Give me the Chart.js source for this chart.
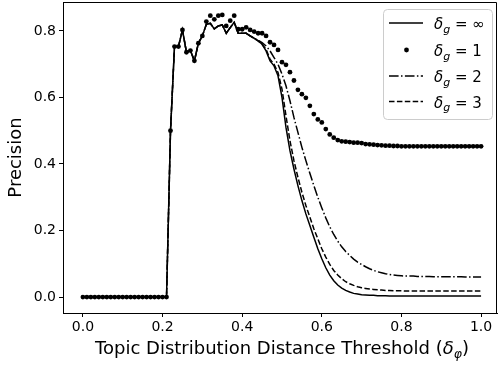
<!DOCTYPE html>
<html>
<head>
<meta charset="utf-8">
<script src="https://cdn.jsdelivr.net/npm/chart.js@4"></script>
<style>
  html, body { margin: 0; padding: 0; background: #fff; }
</style>
</head>
<body>
<canvas id="precisionChart" width="498" height="367"></canvas>
<script>
// distance thresholds (x)
const thresholds = [
    0.00, 0.01, 0.02, 0.03, 0.04, 0.05, 0.06, 0.07, 0.08, 0.09,
    0.10, 0.11, 0.12, 0.13, 0.14, 0.15, 0.16, 0.17, 0.18, 0.19,
    0.20, 0.21, 0.22, 0.23, 0.24, 0.25, 0.26, 0.27, 0.28, 0.29,
    0.30, 0.31, 0.32, 0.33, 0.34, 0.35, 0.36, 0.37, 0.38, 0.39,
    0.40, 0.41, 0.42, 0.43, 0.44, 0.45, 0.46, 0.47, 0.48, 0.49,
    0.50, 0.51, 0.52, 0.53, 0.54, 0.55, 0.56, 0.57, 0.58, 0.59,
    0.60, 0.61, 0.62, 0.63, 0.64, 0.65, 0.66, 0.67, 0.68, 0.69,
    0.70, 0.71, 0.72, 0.73, 0.74, 0.75, 0.76, 0.77, 0.78, 0.79,
    0.80, 0.81, 0.82, 0.83, 0.84, 0.85, 0.86, 0.87, 0.88, 0.89,
    0.90, 0.91, 0.92, 0.93, 0.94, 0.95, 0.96, 0.97, 0.98, 0.99,
    1.00
];

// delta_g = infinity
const precisionInf = [
    0, 0, 0, 0, 0, 0, 0, 0, 0, 0,
    0, 0, 0, 0, 0, 0, 0, 0, 0, 0,
    0, 0, 0.50, 0.753, 0.753, 0.803, 0.736, 0.741, 0.71, 0.763,
    0.785, 0.82, 0.823, 0.806, 0.815, 0.818, 0.793, 0.81, 0.826, 0.793,
    0.793, 0.793, 0.785, 0.778, 0.77, 0.76, 0.74, 0.71, 0.695, 0.665,
    0.60, 0.51, 0.44, 0.385, 0.335, 0.29, 0.25, 0.215, 0.18, 0.145,
    0.115, 0.088, 0.066, 0.049, 0.036, 0.027, 0.02, 0.015, 0.011, 0.009,
    0.007, 0.006, 0.005, 0.005, 0.004, 0.004, 0.004, 0.003, 0.003, 0.003,
    0.003, 0.003, 0.003, 0.003, 0.003, 0.003, 0.003, 0.003, 0.003, 0.003,
    0.003, 0.003, 0.003, 0.003, 0.003, 0.003, 0.003, 0.003, 0.003, 0.003,
    0.003
];

// delta_g = 1
const precisionG1 = [
    0, 0, 0, 0, 0, 0, 0, 0, 0, 0,
    0, 0, 0, 0, 0, 0, 0, 0, 0, 0,
    0, 0, 0.50, 0.753, 0.753, 0.803, 0.736, 0.741, 0.71, 0.763,
    0.785, 0.828, 0.846, 0.835, 0.846, 0.848, 0.815, 0.831, 0.846, 0.805,
    0.805, 0.811, 0.803, 0.798, 0.793, 0.793, 0.785, 0.766, 0.758, 0.743,
    0.706, 0.698, 0.676, 0.651, 0.623, 0.610, 0.599, 0.575, 0.55, 0.534,
    0.525, 0.505, 0.489, 0.479, 0.472, 0.468, 0.467, 0.466, 0.464, 0.464,
    0.463, 0.46, 0.459, 0.458, 0.457, 0.456, 0.455, 0.455, 0.454, 0.454,
    0.453, 0.453, 0.453, 0.453, 0.453, 0.453, 0.453, 0.453, 0.453, 0.453,
    0.453, 0.453, 0.453, 0.453, 0.453, 0.453, 0.453, 0.453, 0.453, 0.453,
    0.453
];

// delta_g = 2
const precisionG2 = [
    0, 0, 0, 0, 0, 0, 0, 0, 0, 0,
    0, 0, 0, 0, 0, 0, 0, 0, 0, 0,
    0, 0, 0.50, 0.753, 0.753, 0.803, 0.736, 0.741, 0.71, 0.763,
    0.785, 0.82, 0.823, 0.806, 0.815, 0.818, 0.793, 0.81, 0.826, 0.793,
    0.793, 0.793, 0.785, 0.778, 0.772, 0.765, 0.755, 0.74, 0.72, 0.70,
    0.67, 0.635, 0.59, 0.54, 0.495, 0.45, 0.41, 0.372, 0.335, 0.30,
    0.268, 0.238, 0.211, 0.188, 0.168, 0.151, 0.137, 0.125, 0.114, 0.105,
    0.098, 0.091, 0.085, 0.08, 0.076, 0.073, 0.07, 0.068, 0.066, 0.065,
    0.064, 0.063, 0.063, 0.063, 0.062, 0.062, 0.062, 0.062, 0.061, 0.061,
    0.061, 0.061, 0.061, 0.061, 0.061, 0.061, 0.06, 0.06, 0.06, 0.06,
    0.06
];

// delta_g = 3
const precisionG3 = [
    0, 0, 0, 0, 0, 0, 0, 0, 0, 0,
    0, 0, 0, 0, 0, 0, 0, 0, 0, 0,
    0, 0, 0.50, 0.753, 0.753, 0.803, 0.736, 0.741, 0.71, 0.763,
    0.785, 0.82, 0.823, 0.806, 0.815, 0.818, 0.793, 0.81, 0.826, 0.793,
    0.793, 0.793, 0.785, 0.778, 0.77, 0.76, 0.745, 0.715, 0.70, 0.675,
    0.625, 0.545, 0.47, 0.41, 0.36, 0.315, 0.275, 0.24, 0.205, 0.175,
    0.145, 0.12, 0.098, 0.08, 0.066, 0.055, 0.046, 0.04, 0.035, 0.031,
    0.028, 0.026, 0.024, 0.023, 0.022, 0.021, 0.02, 0.02, 0.019, 0.019,
    0.019, 0.018, 0.018, 0.018, 0.018, 0.018, 0.018, 0.018, 0.018, 0.018,
    0.018, 0.018, 0.018, 0.018, 0.018, 0.018, 0.018, 0.018, 0.018, 0.018,
    0.018
];

const seriesLabels = ['\u221e', '1', '2', '3'];
const xTicks = [0, 0.2, 0.4, 0.6, 0.8, 1.0];
const yTicks = [0, 0.2, 0.4, 0.6, 0.8];

const FONT = "'DejaVu Sans', sans-serif";

function points(values) {
    return thresholds.map(function (x, i) { return { x: x, y: values[i] }; });
}

// draws text pieces one after another (for delta with subscript)
function drawPieces(ctx, x, y, pieces) {
    pieces.forEach(function (p) {
        ctx.font = (p.italic ? 'italic ' : '') + p.size + 'px ' + FONT;
        ctx.fillText(p.t, x, y + (p.dy || 0));
        x += ctx.measureText(p.t).width;
    });
    return x;
}

const framePlugin = {
    id: 'frame',
    afterDatasetsDraw(chart) {
        const a = chart.chartArea;
        const ctx = chart.ctx;
        ctx.save();
        ctx.strokeStyle = '#000';
        ctx.lineWidth = 1;
        ctx.beginPath();
        ctx.moveTo(Math.round(a.left) + 0.5, Math.round(a.top) + 0.5);
        ctx.lineTo(Math.round(a.right) - 0.5, Math.round(a.top) + 0.5);
        ctx.lineTo(Math.round(a.right) - 0.5, Math.round(a.bottom) + 0.5);
        ctx.stroke();
        ctx.restore();
    }
};

const legendPlugin = {
    id: 'mathLegend',
    afterDraw(chart) {
        const ctx = chart.ctx;
        const ds = chart.data.datasets;
        ctx.save();
        // box
        const bx = 383.5, by = 9.5, bw = 109, bh = 110, r = 4;
        ctx.beginPath();
        ctx.moveTo(bx + r, by);
        ctx.arcTo(bx + bw, by, bx + bw, by + bh, r);
        ctx.arcTo(bx + bw, by + bh, bx, by + bh, r);
        ctx.arcTo(bx, by + bh, bx, by, r);
        ctx.arcTo(bx, by, bx + bw, by, r);
        ctx.closePath();
        ctx.fillStyle = 'rgba(255,255,255,0.8)';
        ctx.fill();
        ctx.strokeStyle = '#cccccc';
        ctx.lineWidth = 1;
        ctx.stroke();

        const rows = [23, 50, 76, 101.5];
        ds.forEach(function (d, i) {
            const cy = rows[i];
            ctx.strokeStyle = '#000';
            ctx.fillStyle = '#000';
            if (d.showLine) {
                ctx.lineWidth = d.borderWidth;
                ctx.setLineDash(d.borderDash || []);
                ctx.beginPath();
                ctx.moveTo(389, cy);
                ctx.lineTo(423, cy);
                ctx.stroke();
                ctx.setLineDash([]);
            } else {
                ctx.beginPath();
                ctx.arc(406.5, cy, d.pointRadius, 0, Math.PI * 2);
                ctx.fill();
            }
            ctx.textBaseline = 'alphabetic';
            ctx.textAlign = 'left';
            drawPieces(ctx, 434, cy + 6, [
                { t: '\u03b4', italic: true, size: 15 },
                { t: 'g', italic: true, size: 11, dy: 3.5 },
                { t: ' = ' + seriesLabels[i], size: 15 }
            ]);
        });
        ctx.restore();
    }
};

const xTitlePlugin = {
    id: 'xTitle',
    afterDraw(chart) {
        const ctx = chart.ctx;
        const a = chart.chartArea;
        ctx.save();
        ctx.fillStyle = '#000';
        ctx.textBaseline = 'alphabetic';
        ctx.textAlign = 'left';
        const pieces = [
            { t: 'Topic Distribution Distance Threshold (', size: 18 },
            { t: '\u03b4', italic: true, size: 18 },
            { t: '\u03c6', italic: true, size: 12.5, dy: 4 },
            { t: ')', size: 18 }
        ];
        let w = 0;
        pieces.forEach(function (p) {
            ctx.font = (p.italic ? 'italic ' : '') + p.size + 'px ' + FONT;
            w += ctx.measureText(p.t).width;
        });
        drawPieces(ctx, (a.left + a.right) / 2 - w / 2 + 2, 354, pieces);
        ctx.restore();
    }
};

new Chart(document.getElementById('precisionChart'), {
    type: 'scatter',
    data: {
        datasets: [{
            label: 'dg=inf',
            data: points(precisionInf),
            showLine: true,
            borderColor: '#000',
            borderWidth: 1.5,
            pointRadius: 0,
            tension: 0
        }, {
            label: 'dg=1',
            data: points(precisionG1),
            showLine: false,
            backgroundColor: '#000',
            borderColor: '#000',
            pointRadius: 2.4,
            pointBorderWidth: 0
        }, {
            label: 'dg=2',
            data: points(precisionG2),
            showLine: true,
            borderColor: '#000',
            borderWidth: 1.5,
            borderDash: [9.6, 2.4, 1.5, 2.4],
            pointRadius: 0,
            tension: 0
        }, {
            label: 'dg=3',
            data: points(precisionG3),
            showLine: true,
            borderColor: '#000',
            borderWidth: 1.5,
            borderDash: [5.5, 2.4],
            pointRadius: 0,
            tension: 0
        }]
    },
    options: {
        responsive: false,
        animation: false,
        layout: { autoPadding: false, padding: { top: 2, right: 1, left: 0, bottom: 0 } },
        plugins: {
            legend: { display: false },
            tooltip: { enabled: false }
        },
        scales: {
            x: {
                type: 'linear',
                min: -0.05,
                max: 1.04,
                afterBuildTicks: function (s) { s.ticks = xTicks.map(function (v) { return { value: v }; }); },
                afterFit: function (s) {
                    s.height = 54;
                    s.paddingLeft = 0;
                    s.paddingRight = 0;
                },
                ticks: {
                    callback: function (v) { return v.toFixed(1); },
                    font: { family: FONT, size: 14 },
                    color: '#000',
                    padding: 2,
                    maxRotation: 0,
                    autoSkip: false
                },
                grid: { drawOnChartArea: false, drawTicks: true, tickLength: 4, color: '#000' },
                border: { display: true, color: '#000', width: 1 }
            },
            y: {
                type: 'linear',
                min: -0.048,
                max: 0.887,
                afterBuildTicks: function (s) { s.ticks = yTicks.map(function (v) { return { value: v }; }); },
                afterFit: function (s) {
                    s.width = 63;
                    s.paddingTop = 0;
                    s.paddingBottom = 0;
                },
                ticks: {
                    callback: function (v) { return v.toFixed(1); },
                    font: { family: FONT, size: 14 },
                    color: '#000',
                    padding: 3,
                    autoSkip: false
                },
                grid: { drawOnChartArea: false, drawTicks: true, tickLength: 4, color: '#000' },
                border: { display: true, color: '#000', width: 1 },
                title: {
                    display: true,
                    text: 'Precision',
                    color: '#000',
                    font: { family: FONT, size: 18 },
                    padding: { top: 6, bottom: 0 }
                }
            }
        }
    },
    plugins: [framePlugin, legendPlugin, xTitlePlugin]
});
</script>
</body>
</html>
